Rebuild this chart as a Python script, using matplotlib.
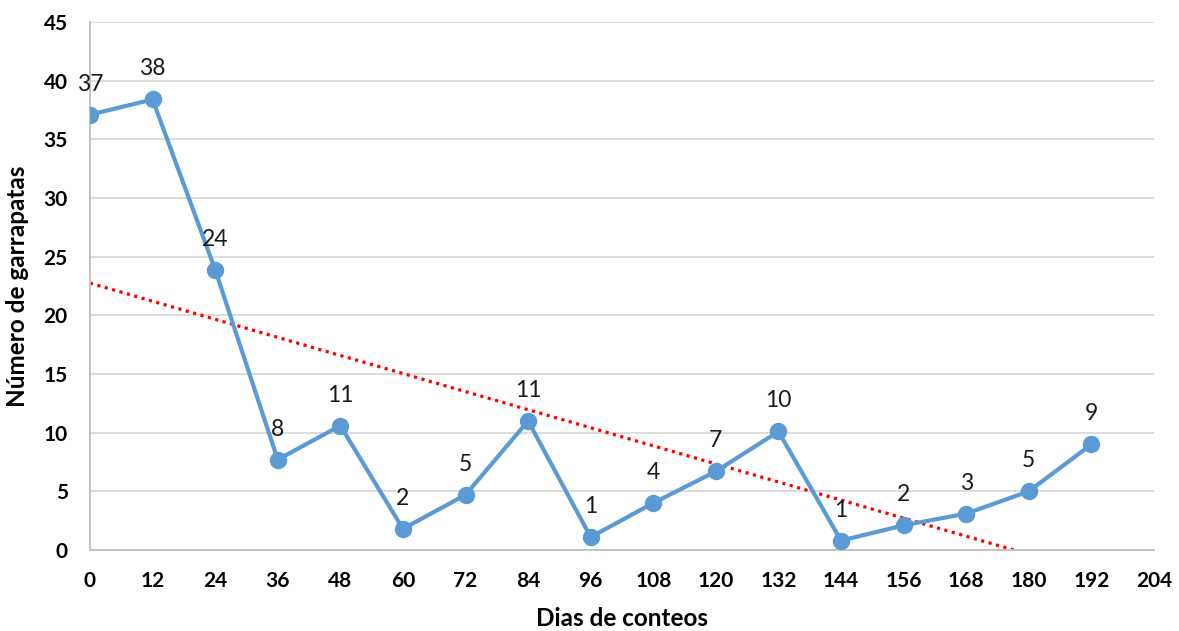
import numpy as np
import matplotlib
matplotlib.use("Agg")
import matplotlib.pyplot as plt

plt.rcParams['font.family'] = ['Lato', 'DejaVu Sans']

# Counting days and tick counts
dias = [0, 12, 24, 36, 48, 60, 72, 84, 96, 108, 120, 132, 144, 156, 168, 180, 192]
garrapatas = [37.1, 38.4, 23.9, 7.7, 10.6, 1.8, 4.7, 11.0, 1.1, 4.0, 6.7, 10.1,
              0.8, 2.1, 3.1, 5.0, 9.0]
x_ticks = list(range(0, 205, 12))
y_ticks = list(range(0, 46, 5))

fig = plt.figure(figsize=(11.79, 6.31), dpi=100)
ax = fig.add_axes([0.0763, 0.1284, 0.9025, 0.8367])

# Linear trend line over the counting period
coef = np.polyfit(dias, garrapatas, 1)
xt = np.array([dias[0], dias[-1]])
ax.plot(xt, np.polyval(coef, xt), color='#ff0000', lw=2.3,
        linestyle=(0, (1, 1.4)), zorder=2)

ax.plot(dias, garrapatas, color='#5B9BD5', lw=3, marker='o', markersize=11.5,
        zorder=3)

for x, y in zip(dias, garrapatas):
    ax.annotate(f"{y:.0f}", (x, y), xytext=(0, 22), textcoords='offset points',
                ha='center', va='center', fontsize=16.5, color='#1a1a1a')

ax.set_xlim(0, 204)
ax.set_ylim(0, 45)
ax.set_xticks(x_ticks)
ax.set_yticks(y_ticks)
ax.tick_params(length=0, labelsize=15)
ax.tick_params(axis='x', pad=15)
ax.tick_params(axis='y', pad=16)
for lab in ax.get_xticklabels() + ax.get_yticklabels():
    lab.set_fontweight('bold')

ax.yaxis.grid(True, color='#d9d9d9', lw=1.3)
ax.set_axisbelow(True)
for side in ['top', 'right']:
    ax.spines[side].set_visible(False)
for side in ['left', 'bottom']:
    ax.spines[side].set_color('#bfbfbf')
    ax.spines[side].set_linewidth(1.3)

ax.set_xlabel('Dias de conteos', fontsize=17.5, fontweight='bold', labelpad=12)
ax.set_ylabel('Número de garrapatas', fontsize=17.5, fontweight='bold', labelpad=10)

fig.savefig('out.png', dpi=100, facecolor='white')
